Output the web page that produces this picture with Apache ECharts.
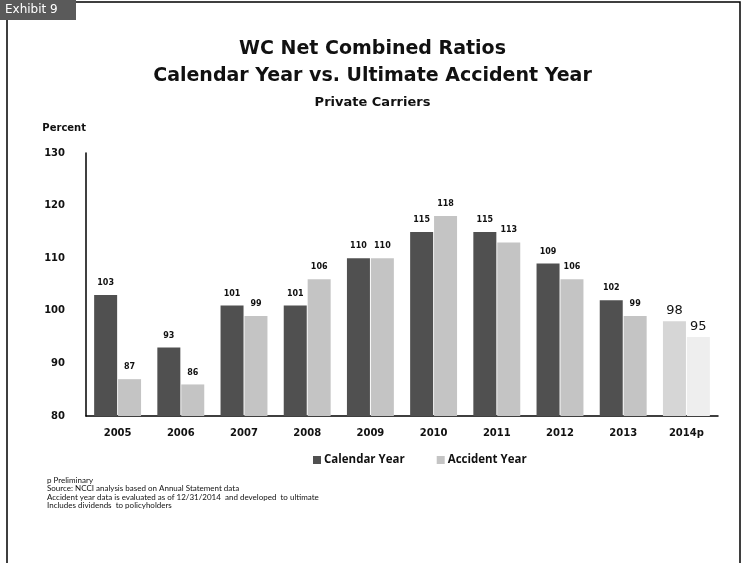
<!DOCTYPE html>
<html>
<head>
<meta charset="utf-8">
<script src="https://cdn.jsdelivr.net/npm/echarts@6/dist/echarts.min.js"></script>
<style>html,body{margin:0;padding:0;background:#fff;}#chart{width:745px;height:563px;}</style>
</head>
<body>
<div id="chart"></div>
<script>
var categories = ['2005','2006','2007','2008','2009','2010','2011','2012','2013','2014p'];
var calendarYear = [103, 93, 101, 101, 110, 115, 115, 109, 102, 98];
var accidentYear = [87, 86, 99, 106, 110, 118, 113, 106, 99, 95];
var yTicks = {min: 80, max: 130, interval: 10};
var footnotes = [
  'p Preliminary',
  'Source: NCCI analysis based on Annual Statement data',
  'Accident year data is evaluated as of 12/31/2014  and developed  to ultimate',
  'Includes dividends  to policyholders'
];

var DARK = '#505050', LIGHT = '#c4c4c4', PRELIM1 = '#d6d6d6', PRELIM2 = '#eeeeee';
var last = categories.length - 1;

function calData() {
  return calendarYear.map(function (v, i) {
    if (i === last) return {value: v, itemStyle: {color: PRELIM1}, label: {fontSize: 13, fontWeight: 'normal', distance: 4}};
    return v;
  });
}
function accData() {
  return accidentYear.map(function (v, i) {
    if (i === last) return {value: v, itemStyle: {color: PRELIM2}, label: {fontSize: 13, fontWeight: 'normal', distance: 4}};
    return v;
  });
}

var chart = echarts.init(document.getElementById('chart'), null, {renderer: 'canvas'});
var labelBase = {show: true, position: 'top', distance: 8, fontFamily: 'DejaVu Sans', fontWeight: 'bold', fontSize: 8, color: '#111'};

chart.setOption({
  animation: false,
  backgroundColor: '#fff',
  title: [
    {text: 'WC Net Combined Ratios\nCalendar Year vs. Ultimate Accident Year', left: 'center', top: 31,
     textStyle: {fontFamily: 'DejaVu Sans', fontWeight: 'bold', fontSize: 19, lineHeight: 27, color: '#111'}},
    {text: 'Private Carriers', left: 'center', top: 91,
     textStyle: {fontFamily: 'DejaVu Sans', fontWeight: 'bold', fontSize: 13, color: '#111'}}
  ],
  legend: {
    data: [{name: 'Calendar Year', itemStyle: {color: DARK}}, {name: 'Accident Year', itemStyle: {color: LIGHT}}],
    left: 308, top: 449, itemWidth: 8, itemHeight: 8, itemGap: 32, icon: 'rect',
    textStyle: {fontFamily: 'Open Sans', fontWeight: 'bold', fontSize: 11.5, color: '#111', padding: [0, 0, 0, -2]}
  },
  grid: {left: 86, right: 27, top: 153, bottom: 147, containLabel: false},
  xAxis: {
    type: 'category', data: categories,
    axisLine: {lineStyle: {color: '#000', width: 1.5}},
    axisTick: {show: false},
    axisLabel: {margin: 12, fontFamily: 'DejaVu Sans', fontWeight: 'bold', fontSize: 10, color: '#111'}
  },
  yAxis: {
    type: 'value', min: yTicks.min, max: yTicks.max, interval: yTicks.interval,
    name: 'Percent', nameLocation: 'end', nameGap: 20,
    nameTextStyle: {fontFamily: 'DejaVu Sans', fontWeight: 'bold', fontSize: 10, color: '#111', align: 'right'},
    axisLine: {show: true, lineStyle: {color: '#000', width: 1.5}},
    axisTick: {show: false},
    splitLine: {show: false},
    axisLabel: {margin: 21, fontFamily: 'DejaVu Sans', fontWeight: 'bold', fontSize: 10, color: '#111'}
  },
  series: [
    {name: 'Calendar Year', type: 'bar', data: calData(), barWidth: 23, barGap: '4%',
     itemStyle: {color: DARK}, label: labelBase},
    {name: 'Accident Year', type: 'bar', data: accData(), barWidth: 23,
     itemStyle: {color: LIGHT}, label: labelBase}
  ],
  graphic: [
    {type: 'rect', shape: {x: 7, y: 2, width: 733, height: 570}, style: {fill: 'none', stroke: '#000', lineWidth: 1.5}, silent: true},
    {type: 'rect', shape: {x: 0, y: 0, width: 76, height: 20}, style: {fill: '#5a5a5a'}, silent: true},
    {type: 'text', left: 5, top: 4, style: {text: 'Exhibit 9', fill: '#fff', font: '12px "DejaVu Sans"'}, silent: true},
    {type: 'text', left: 47, top: 476, style: {text: footnotes.join('\n'), fill: '#111', font: '8px Lato', lineHeight: 8.5}, silent: true}
  ]
});
</script>
</body>
</html>
